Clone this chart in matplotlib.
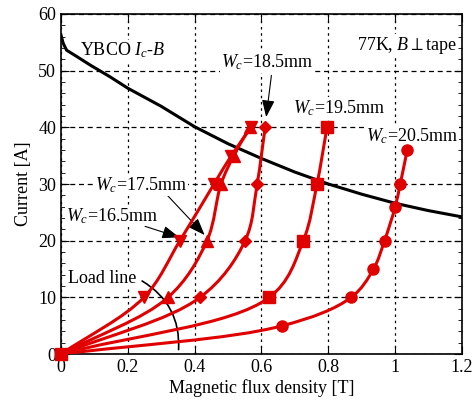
import numpy as np
import matplotlib
matplotlib.use("Agg")
import matplotlib.pyplot as plt
from matplotlib.path import Path
from matplotlib.patches import PathPatch
from matplotlib.ticker import MultipleLocator

plt.rcParams['font.family'] = ['Liberation Serif', 'DejaVu Serif']
plt.rcParams['mathtext.fontset'] = 'custom'
plt.rcParams['mathtext.rm'] = 'Liberation Serif'
plt.rcParams['mathtext.it'] = 'Liberation Serif:italic'

RED = '#e00000'

# critical current of the YBCO tape vs field
icb_B = [0, 0.007, 0.017, 0.047, 0.087, 0.147, 0.2, 0.3, 0.4, 0.5, 0.6, 0.7, 0.8, 0.9, 1.0, 1.1, 1.2]
icb_I = [56.3, 54.8, 53.6, 52.5, 51.0, 48.9, 46.9, 43.7, 40.1, 37.1, 34.5, 32.1, 30.0, 28.2, 26.6, 25.3, 24.2]

# load lines for each coil width
wc_labels = ['16.5', '17.5', '18.5', '19.5', '20.5']
wc_markers = ['v', '^', 'D', 's', 'o']
wc_msize = [8, 8, 6, 8.5, 8]
B_165 = [0, 0.248, 0.356, 0.458, 0.51, 0.569]
I_165 = [0, 10, 20, 30, 35, 40]
B_175 = [0, 0.32, 0.437, 0.479, 0.517, 0.565]
I_175 = [0, 10, 20, 30, 35, 40]
B_185 = [0, 0.416, 0.551, 0.587, 0.611]
I_185 = [0, 10, 20, 30, 40]
B_195 = [0, 0.623, 0.725, 0.766, 0.796]
I_195 = [0, 10, 20, 30, 40]
B_205 = [0, 0.662, 0.868, 0.935, 0.968, 1.0, 1.015, 1.036]
I_205 = [0, 5, 10, 15, 20, 26, 30, 36]
series = [(B_165, I_165), (B_175, I_175), (B_185, I_185), (B_195, I_195), (B_205, I_205)]

SX, SY = 334.0, 5.667  # rough pixel scale, used only to space the spline knots


def smooth_path(x, y):
    # centripetal catmull-rom through the points, written as cubic beziers
    p = np.column_stack([np.asarray(x) * SX, np.asarray(y) * SY])
    n = len(p)
    d = np.linalg.norm(np.diff(p, axis=0), axis=1) ** 0.5
    t = np.concatenate([[0], np.cumsum(d)])
    m = np.zeros_like(p)
    m[0] = (p[1] - p[0]) / (t[1] - t[0])
    m[-1] = (p[-1] - p[-2]) / (t[-1] - t[-2])
    for i in range(1, n - 1):
        m[i] = ((p[i + 1] - p[i]) / (t[i + 1] - t[i])
                - (p[i + 1] - p[i - 1]) / (t[i + 1] - t[i - 1])
                + (p[i] - p[i - 1]) / (t[i] - t[i - 1]))
    verts = [p[0]]
    codes = [Path.MOVETO]
    for i in range(n - 1):
        h = t[i + 1] - t[i]
        verts += [p[i] + m[i] * h / 3, p[i + 1] - m[i + 1] * h / 3, p[i + 1]]
        codes += [Path.CURVE4] * 3
    verts = np.array(verts) / [SX, SY]
    return Path(verts, codes)


fig = plt.figure(figsize=(4.72, 4.08), dpi=100)
ax = fig.add_axes([0.129, 0.132, 0.850, 0.834])

ax.plot(icb_B, icb_I, color='black', lw=2.2, zorder=3)

for (b, i), m, ms in zip(series, wc_markers, wc_msize):
    ax.add_patch(PathPatch(smooth_path(b, i), fill=False, edgecolor=RED, lw=2.2, zorder=4))
    every = None if m == 's' else slice(1, None)
    ax.plot(b, i, ls='none', marker=m, ms=ms, color=RED, zorder=5 if m != 's' else 6,
            clip_on=False, markevery=every)

ax.set_xlim(0, 1.2)
ax.set_ylim(0, 60)
ax.yaxis.set_major_locator(MultipleLocator(10))
ax.yaxis.set_minor_locator(MultipleLocator(2))
ax.set_xticks([0, 0.2, 0.4, 0.6, 0.8, 1.0, 1.2])
ax.set_xticklabels(['0', '0.2', '0.4', '0.6', '0.8', '1', '1.2'])
ax.tick_params(which='both', direction='in', top=True, right=True, labelsize=13)
ax.tick_params(which='major', length=6)
ax.tick_params(which='minor', length=3)
ax.xaxis.grid(True, color='black', lw=0.9, ls=(0, (2, 3)))
ax.yaxis.grid(True, color='black', lw=0.9, ls=(0, (4, 3)))
ax.set_axisbelow(True)
for s in ax.spines.values():
    s.set_linewidth(1.2)

ax.set_xlabel('Magnetic flux density [T]', fontsize=13, labelpad=2)
ax.set_ylabel('Current [A]', fontsize=13, labelpad=4)

box = dict(facecolor='white', edgecolor='none', pad=0.5)
ax.text(0.057, 53.6, 'YBCO $I_c$-$B$', fontsize=13, va='center', bbox=box, zorder=2)
ax.text(1.186, 54.5, r'77K, $B\perp$tape', fontsize=13, va='center', ha='right',
        bbox=box, zorder=2)

arr = dict(arrowstyle='-|>,head_length=0.8,head_width=0.3', color='black', lw=0.8)
ax.annotate('$W_c$=16.5mm', xy=(0.354, 20.6), xytext=(0.015, 24.4), fontsize=13,
            va='center', bbox=box, arrowprops=dict(arr, shrinkA=0, shrinkB=0), zorder=2)
ax.annotate('$W_c$=17.5mm', xy=(0.43, 21.0), xytext=(0.102, 29.8), fontsize=13,
            va='center', bbox=box, arrowprops=dict(arr, shrinkA=0, shrinkB=0,
                                                   relpos=(0.78, 0.0)), zorder=2)
ax.annotate('$W_c$=18.5mm', xy=(0.614, 41.8), xytext=(0.479, 51.5), fontsize=13,
            va='center', bbox=box, arrowprops=dict(arr, shrinkA=2, shrinkB=0,
                                                   relpos=(0.55, 0.0)), zorder=2)
ax.text(0.695, 43.4, '$W_c$=19.5mm', fontsize=13, va='center', bbox=box, zorder=2)
ax.text(0.913, 38.5, '$W_c$=20.5mm', fontsize=13, va='center', bbox=box, zorder=2)

ax.text(0.021, 13.4, 'Load line', fontsize=13, va='center', bbox=box, zorder=2)
ax.annotate('', xy=(0.352, 0.8), xytext=(0.243, 12.9),
            arrowprops=dict(arrowstyle='-', color='black', lw=1.2,
                            connectionstyle='arc3,rad=-0.3', shrinkA=0, shrinkB=0))

fig.savefig('out.png', dpi=100)
